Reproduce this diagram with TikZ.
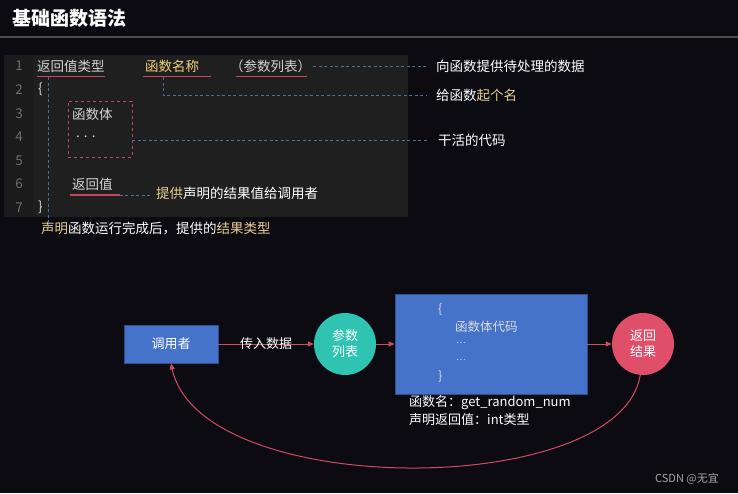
\documentclass[tikz,border=0pt]{standalone}
\usepackage{fontspec}
\setmainfont{Noto Sans CJK SC}
\usepackage{xcolor}
\usetikzlibrary{arrows.meta, positioning, calc}
\definecolor{bgdark}{HTML}{0B0B11}
\definecolor{panel}{HTML}{1F1F1F}
\definecolor{gutter}{HTML}{1B1B1B}
\definecolor{codetxt}{HTML}{D4D4D4}
\definecolor{lineno}{HTML}{6E6E6E}
\definecolor{hl}{HTML}{EFD27A}
\definecolor{hlsoft}{HTML}{E9CF95}
\definecolor{uline}{HTML}{C24A5C}
\definecolor{dashblue}{HTML}{4C6EA6}
\definecolor{boxblue}{HTML}{4673CA}
\definecolor{boxedge}{HTML}{2F4F8F}
\definecolor{teal}{HTML}{2FC3B1}
\definecolor{rescirc}{HTML}{DF4F69}
\definecolor{flowred}{HTML}{D14B61}

\begin{document}
\begin{tikzpicture}[x=1pt, y=-1pt,
  txt/.style={inner sep=0pt, anchor=west, text=codetxt, font=\fontsize{13.5}{16}\selectfont},
  note/.style={txt, text=white},
  ulinestyle/.style={draw=uline, line width=1.3pt},
  guide/.style={draw=dashblue, line width=0.8pt, dash pattern=on 3pt off 2.5pt},
  flow/.style={draw=flowred, line width=1pt, -{Triangle[length=6pt,width=5pt]}},
  bluebox/.style={draw=boxedge, fill=boxblue, line width=0.8pt, inner sep=0pt},
  bubble/.style={circle, minimum size=62pt, inner sep=0pt, text=white, align=center,
    font=\fontsize{13}{16}\selectfont}]
  % background and title
  \fill[bgdark] (0,0) rectangle (738,493);
  \useasboundingbox (0,0) rectangle (738,493);
  \node[inner sep=0pt, anchor=west, text=white, font=\fontsize{19}{22}\selectfont\bfseries]
    (title) at (12,18) {基础函数语法};
  \draw[black!70!white, line width=1.5pt] (0,37) -- (738,37);
  % code panel
  \fill[panel] (4,55) rectangle (408,217);
  \fill[gutter] (4,55) rectangle (33,217);
  \foreach \n in {1,...,7}
    \node[txt, anchor=center, text=lineno] (ln\n) at (19,{66+(\n-1)*23.6}) {\n};
  % line 1
  \node[txt] (rettype) at (37,66) {返回值类型};
  \node[txt, text=hl] (fname) at (145,66) {函数名称};
  \node[txt] (plist) at (230,66) {（参数列表）};
  \draw[ulinestyle] ([yshift=-4pt]rettype.south west) -- ([yshift=-4pt]rettype.south east);
  \draw[ulinestyle] ([xshift=-2pt,yshift=-4pt]fname.south west) -- ([xshift=12pt,yshift=-4pt]fname.south east);
  \draw[ulinestyle] ([xshift=6pt,yshift=-4pt]plist.south west) -- ([xshift=-4pt,yshift=-4pt]plist.south east);
  % braces and body
  \node[txt] (lbrace) at (38,89.6) {\{};
  \node[txt] (rbrace) at (38,207.6) {\}};
  \node[draw=uline, dashed, line width=0.9pt, minimum width=64pt, minimum height=56pt,
    inner sep=0pt] (bodybox) at (100,129) {};
  \node[txt] (bodytxt) at (72,114) {函数体};
  \node[txt] (dots) at (76,137) {. . .};
  \node[txt] (retval) at (72,184.5) {返回值};
  \draw[ulinestyle] ([xshift=-2pt,yshift=-4pt]retval.south west) -- ([xshift=7pt,yshift=-4pt]retval.south east);
  \coordinate (retend) at ([xshift=7pt,yshift=-4pt]retval.south east);
  % notes
  \node[note] (note1) at (436,66) {向函数提供待处理的数据};
  \node[note] (note2) at (436,95) {给函数\textcolor{hlsoft}{起个名}};
  \node[note] (note3) at (438,140) {干活的代码};
  \node[note] (note4) at (156,193) {\textcolor{hlsoft}{提供}声明的结果值给调用者};
  \node[note] (note5) at (41,228.5) {\textcolor{hlsoft}{声明}函数运行完成后，提供的\textcolor{hlsoft}{结果类型}};
  % guide lines
  \draw[guide] ([xshift=2pt]plist.east) -- ([xshift=-10pt]note1.west);
  \draw[guide] ([xshift=18pt,yshift=-5pt]fname.south west) |- ([xshift=-10pt]note2.west);
  \draw[guide] (bodybox.east |- note3.west) -- ([xshift=-10pt]note3.west);
  \draw[guide] (retend) -- ([xshift=-5pt]retend -| note4.west);
  \draw[guide] ([xshift=11pt,yshift=-5pt]rettype.south west) -- ([xshift=11pt,yshift=-5pt]rettype.south west |- note5.north);
  % call flow
  \node[bluebox, minimum width=94pt, minimum height=38pt, text=white,
    font=\fontsize{13}{16}\selectfont] (caller) at (171,344) {调用者};
  \node[bubble, fill=teal] (params) at (345,344) {参数\\列表};
  \node[bluebox, minimum width=192pt, minimum height=100pt] (body) at (491,344) {};
  \node[bubble, fill=rescirc] (result) at (643,344) {返回\\结果};
  \node[txt, text=white!85!black, font=\fontsize{12.5}{15}\selectfont] (ob) at (438,310) {\{};
  \node[txt, text=white!85!black, font=\fontsize{12.5}{15}\selectfont] (bt) at (455,327) {函数体代码};
  \node[txt, text=white!85!black, font=\fontsize{9}{10}\selectfont] (d1) at (456,343) {…};
  \node[txt, text=white!85!black, font=\fontsize{9}{10}\selectfont] (d2) at (456,360) {…};
  \node[txt, text=white!85!black, font=\fontsize{12.5}{15}\selectfont] (cb) at (438,377) {\}};
  \node[note, font=\fontsize{13}{15}\selectfont] (fn) at (409,403) {函数名：get\_random\_num};
  \node[note, font=\fontsize{13}{15}\selectfont] (fr) at (409,420) {声明返回值：int类型};
  \draw[flow] (caller) -- (params)
    node[midway, text=white, font=\fontsize{13}{16}\selectfont, inner sep=0pt] (pass) {传入数据};
  \draw[flow] (params) -- (body);
  \draw[flow] (body) -- (result);
  \draw[flow] (result.265) .. controls (620,500) and (200,500) .. (caller.south);
  % watermark
  \node[txt, text=black!35!white, font=\fontsize{11}{13}\selectfont] (mark) at (655,479) {CSDN @无宜};
\end{tikzpicture}
\end{document}
